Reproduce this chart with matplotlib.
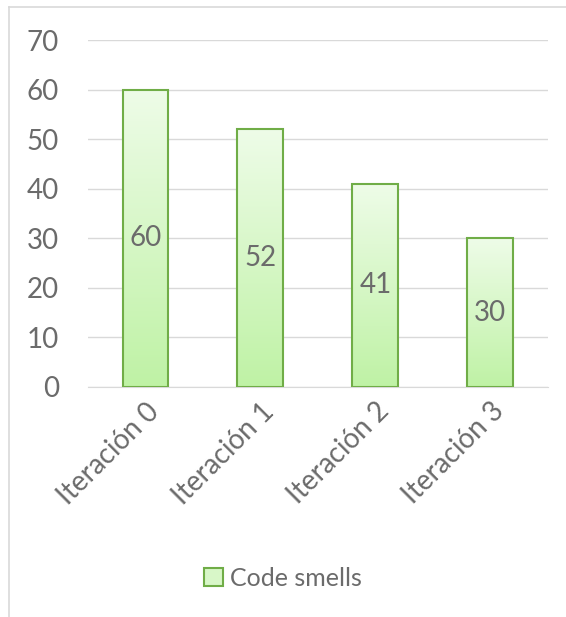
import numpy as np
import matplotlib.pyplot as plt
from matplotlib.patches import Patch
from matplotlib.lines import Line2D

categories = ['Iteración 0', 'Iteración 1', 'Iteración 2', 'Iteración 3']
code_smells = [60, 52, 41, 30]
series_name = 'Code smells'

plt.rcParams['font.family'] = ['Lato', 'DejaVu Sans']

fig = plt.figure(figsize=(5.66, 6.17), dpi=100)
ax = fig.add_axes([0.1555, 0.3728, 0.8125, 0.5622])

x = np.arange(len(categories))
bars = ax.bar(x, code_smells, width=0.4, facecolor='none',
              edgecolor='#70ad47', linewidth=1.5, zorder=3)

# vertical gradient fill inside each bar
grad = np.linspace(0, 1, 256).reshape(-1, 1)
cmap = plt.matplotlib.colors.LinearSegmentedColormap.from_list(
    'g', ['#bff2a5', '#eefce8'])
for b in bars:
    x0, y0 = b.get_x(), b.get_y()
    ax.imshow(grad, extent=(x0, x0 + b.get_width(), y0, y0 + b.get_height()),
              origin='lower', cmap=cmap, aspect='auto', zorder=2)
    ax.text(x0 + b.get_width() / 2, b.get_height() / 2, f'{b.get_height():.0f}',
            ha='center', va='center', fontsize=20, color='#6b6b6b', zorder=4)

ax.set_xlim(-0.5, len(categories) - 0.5)
ax.set_ylim(0, 70)
ax.set_yticks(range(0, 71, 10))
ax.yaxis.grid(True, color='#d9d9d9', linewidth=1)
ax.set_axisbelow(True)
for s in ['top', 'right', 'left']:
    ax.spines[s].set_visible(False)
ax.spines['bottom'].set_color('#d9d9d9')
ax.tick_params(axis='both', length=0, labelsize=20, labelcolor='#6b6b6b')
ax.tick_params(axis='y', pad=21)
ax.tick_params(axis='x', pad=8)
ax.set_xticks(x)
ax.set_xticklabels(categories, rotation=45, ha='right', rotation_mode='anchor')

# chart border (partially cropped)
fig.add_artist(Line2D([9 / 566, 1], [1 - 7 / 617, 1 - 7 / 617],
                      color='#d9d9d9', linewidth=1.2))
fig.add_artist(Line2D([9 / 566, 9 / 566], [0, 1 - 7 / 617],
                      color='#d9d9d9', linewidth=1.2))

handle = Patch(facecolor='#d8f7c8', edgecolor='#70ad47', linewidth=1.5)
fig.legend([handle], [series_name], loc='center', bbox_to_anchor=(0.5, 1 - 578 / 617),
           frameon=False, fontsize=18, labelcolor='#6b6b6b',
           handlelength=0.75, handleheight=0.75, handletextpad=0.3)

fig.savefig('out.png', dpi=100)
